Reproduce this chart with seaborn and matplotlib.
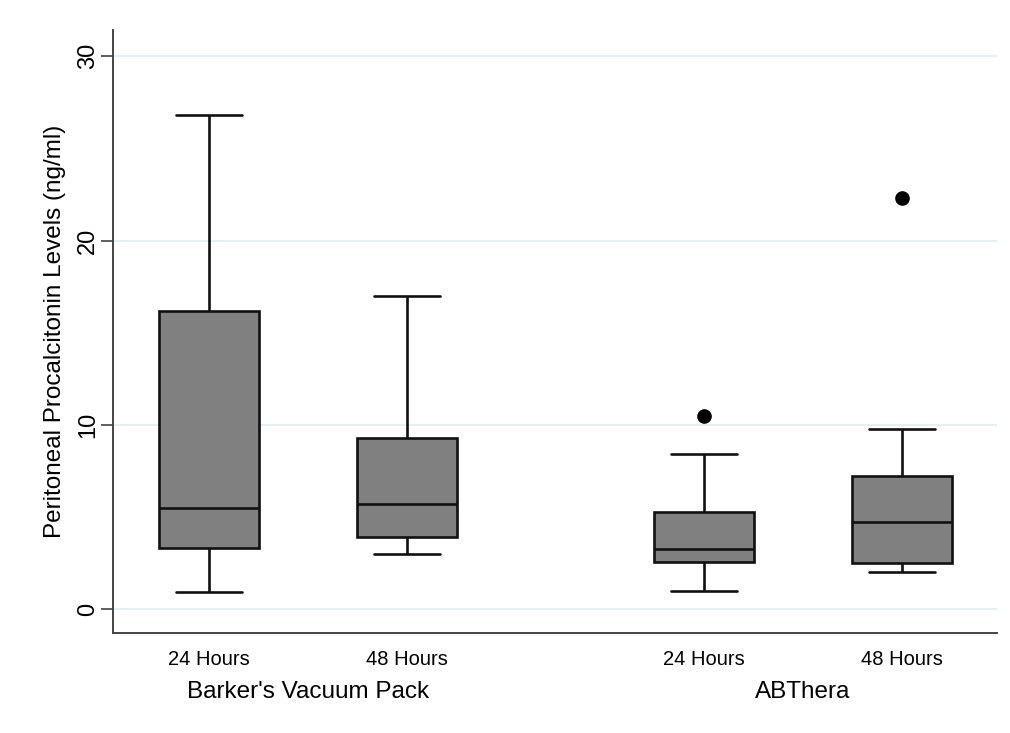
import matplotlib
matplotlib.use("Agg")
import matplotlib.pyplot as plt
import matplotlib.transforms as mtransforms
import seaborn as sns
import pandas as pd

# ---- data ----
groups = ["Barker's Vacuum Pack", "Barker's Vacuum Pack", "ABThera", "ABThera"]
times = ["24 Hours", "48 Hours", "24 Hours", "48 Hours"]
positions = [0.0, 1.0, 2.5, 3.5]
whisker_low = [0.9, 3.0, 1.0, 2.0]
q1 = [3.3, 3.9, 2.53, 2.52]
median = [5.5, 5.7, 3.28, 4.75]
q3 = [16.2, 9.3, 5.24, 7.23]
whisker_high = [26.8, 17.0, 8.44, 9.79]
outliers = [[], [], [10.5], [22.3]]
group_names = ["Barker's Vacuum Pack", "ABThera"]
yticks = [0, 10, 20, 30]

# Build samples whose quartiles (linear percentile, n=9) reproduce the summary
rows = []
for i in range(len(positions)):
    last = outliers[i][0] if outliers[i] else whisker_high[i]
    sample = [whisker_low[i], q1[i], q1[i], median[i], median[i],
              q3[i], q3[i], whisker_high[i], last]
    for v in sample:
        rows.append({"pos": positions[i], "value": v})
df = pd.DataFrame(rows)

sns.set_style("white")
plt.rcParams["font.family"] = ["Liberation Sans", "DejaVu Sans"]
plt.rcParams["text.color"] = "black"
plt.rcParams["axes.labelcolor"] = "black"
plt.rcParams["xtick.color"] = "black"
plt.rcParams["ytick.color"] = "black"

fig = plt.figure(figsize=(10.10, 7.33), dpi=100)
ax = fig.add_axes([0.1119, 0.1364, 0.987 - 0.1119, 0.959 - 0.1364])

ax.set_xlim(-0.485, 3.98)
ax.set_ylim(-1.3, 31.42)
for t in yticks:
    ax.axhline(t, color="#e6eff1", lw=1.4, zorder=0)

sns.boxplot(data=df, x="pos", y="value", native_scale=True, ax=ax,
            color="#808080", saturation=1, width=0.505, linecolor="#111111",
            linewidth=1.9, whis=1.5, capwidths=0.333,
            flierprops=dict(marker="o", markerfacecolor="black",
                            markeredgecolor="black", markersize=9.5))

ax.set_xlim(-0.485, 3.98)
ax.set_ylim(-1.3, 31.42)
ax.set_xticks(positions)
ax.set_xticklabels(times, fontsize=14.5, color="black")
ax.tick_params(axis="x", length=0, pad=12)
ax.set_yticks(yticks)
ax.set_yticklabels([str(t) for t in yticks], fontsize=17, rotation=90, va="center", color="black")
ax.tick_params(axis="y", length=9, width=1.2, color="#444444", pad=1, direction="out", left=True)
ax.set_xlabel("")
ax.set_ylabel("Peritoneal Procalcitonin Levels (ng/ml)", fontsize=17.5, labelpad=8, color="black")
ax.grid(False)

for s in ["top", "right"]:
    ax.spines[s].set_visible(False)
for s in ["left", "bottom"]:
    ax.spines[s].set_color("#444444")
    ax.spines[s].set_linewidth(1.4)

trans = mtransforms.blended_transform_factory(ax.transData, fig.transFigure)
centers = [(positions[0] + positions[1]) / 2, (positions[2] + positions[3]) / 2]
for c, name in zip(centers, group_names):
    ax.text(c, 1 - 692 / 733, name, transform=trans, ha="center", va="center",
            fontsize=17.5, color="black")

fig.savefig("out.png", dpi=100, facecolor="white")
